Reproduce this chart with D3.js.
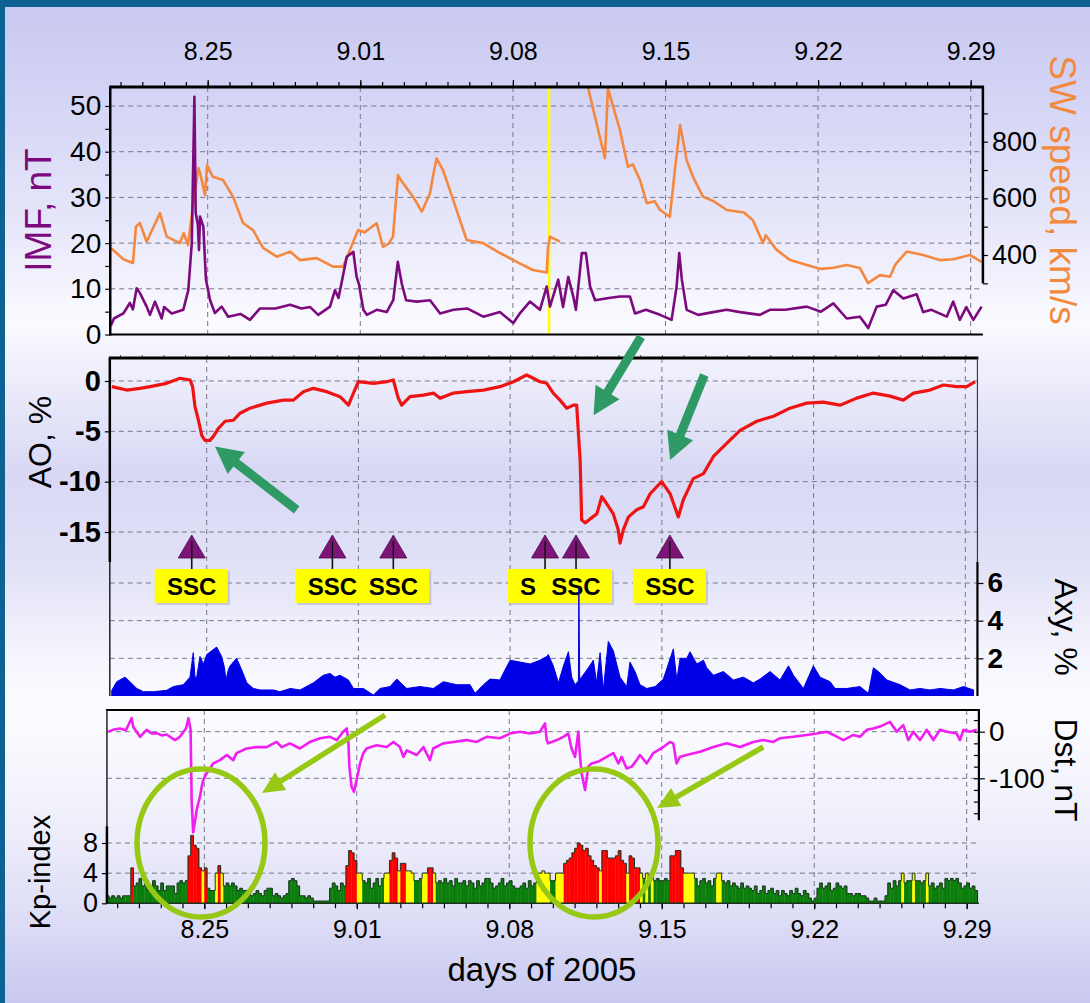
<!DOCTYPE html>
<html>
<head>
<meta charset="utf-8">
<script src="https://cdn.jsdelivr.net/npm/d3@7"></script>
<style>
  html, body { margin: 0; padding: 0; background: #fff; }
  svg { display: block; font-family: "Liberation Sans", Arial, sans-serif; }
</style>
</head>
<body>
<svg id="chart" width="1090" height="1003"></svg>
<script>
// ---------- data (day of year 2005, value) ----------
const dateTicks  = [237, 244, 251, 258, 265, 272];
const dateLabels = ["8.25", "9.01", "9.08", "9.15", "9.22", "9.29"];
const dayRange   = [232.53, 272.56];

// interplanetary magnetic field, nT
const imfData = [[232.56,2],[232.7,3.5],[233.13,4.6],[233.43,6.9],[233.57,5.5],[233.74,10.1],[233.9,9],[234.2,6.1],[234.35,4.3],[234.58,7.2],[234.89,3.5],[235.0,6],[235.35,4.6],[235.88,5.4],[236.11,9.7],[236.27,20],[236.39,52],[236.45,26.6],[236.55,24],[236.6,18.5],[236.65,25.8],[236.8,23.6],[236.92,12],[237.11,7.5],[237.33,4.7],[237.64,6.1],[237.94,3.9],[238.5,4.5],[238.94,3.2],[239.4,5.7],[240.1,5.7],[240.78,6.5],[241.3,5.7],[241.7,6],[242.07,4.3],[242.61,6.1],[242.84,9.7],[243.0,8],[243.38,17],[243.68,18.1],[243.83,12.6],[243.94,11],[244.14,5.4],[244.3,4.3],[244.75,5.4],[245.21,4.9],[245.51,7.5],[245.72,15.9],[245.9,11.2],[246.1,7.5],[246.59,7.2],[247.2,7.5],[247.66,4.6],[248.27,5.4],[248.9,5.7],[249.64,3.9],[250.4,4.9],[251.02,2.5],[251.3,4.5],[251.78,7.2],[252.24,5.4],[252.55,10.5],[252.7,6.1],[253.08,12],[253.3,6],[253.54,12.6],[253.77,8.3],[253.89,5.4],[254.16,17.8],[254.35,17.8],[254.54,10.5],[254.77,7.5],[255.4,8],[255.91,8.3],[256.37,8.3],[256.6,4.6],[257.1,5.4],[257.75,4.3],[258.28,3.2],[258.51,10.5],[258.63,17.8],[258.75,12],[258.97,5.4],[259.5,4.3],[260.19,4.9],[260.8,5.4],[261.42,4.9],[262.33,4.3],[262.79,5.4],[263.5,5.4],[264.48,6.1],[265.13,5],[265.7,6.8],[266.31,3.5],[266.92,3.9],[267.3,1.4],[267.69,6.1],[268.1,6.5],[268.45,9.7],[268.91,7.9],[269.52,8.8],[269.82,4.9],[270.2,5.4],[270.9,3.9],[271.2,7.2],[271.5,3.2],[271.8,6],[272.12,3.2],[272.5,6.1]];

// solar wind speed, km/s (null = no data)
const swData = [[232.56,425],[233.13,385],[233.57,372],[233.71,500],[233.89,513],[234.2,447],[234.81,548],[235.12,465],[235.73,442],[235.9,477],[236.1,435],[236.27,541],[236.57,707],[236.65,690],[236.88,612],[236.97,717],[237.24,676],[237.7,665],[238.16,606],[238.62,513],[239.08,488],[239.54,425],[240.17,394],[240.78,412],[241.23,382],[242.0,389],[242.75,359],[243.21,359],[243.9,488],[244.2,480],[244.75,512],[245.04,429],[245.3,440],[245.5,465],[245.73,682],[245.9,660],[246.42,606],[246.82,553],[247.2,618],[247.33,676],[247.5,741],[247.79,700],[248.11,629],[248.57,523],[248.88,453],[249.63,442],[250.41,407],[251.17,376],[251.92,347],[252.55,338],[252.61,425],[252.7,465],[253.16,447],[253.4,null],[254.45,990],[255.22,742],[255.36,989],[255.5,950],[255.91,841],[256.28,711],[256.5,720],[256.83,665],[257.14,583],[257.5,590],[257.75,559],[258.2,535],[258.43,700],[258.67,859],[258.97,735],[259.26,676],[259.72,606],[260.2,590],[260.81,559],[261.6,550],[262.01,523],[262.47,442],[262.6,470],[263.1,418],[263.72,382],[264.48,365],[265.13,351],[265.7,355],[266.31,365],[266.92,354],[267.29,301],[267.84,329],[268.3,323],[268.53,365],[269.06,412],[269.82,400],[270.58,382],[271.2,385],[271.97,400],[272.5,376]];
const swTickValues  = [300, 400, 500, 600, 700, 800, 900];
const swLabelValues = [400, 600, 800];
const shockDays = [252.66];

// cosmic ray density variation AO, %
const aoData = [[232.62,-0.56],[233.31,-0.9],[233.92,-0.73],[234.39,-0.56],[235.15,-0.23],[235.77,0.27],[236.23,0.1],[236.35,-0.56],[236.46,-2.55],[236.62,-3.9],[236.77,-5.4],[236.92,-5.9],[237.15,-5.9],[237.31,-5.5],[237.54,-4.7],[237.85,-4.0],[238.23,-3.9],[238.54,-3.2],[239.0,-2.7],[239.77,-2.2],[240.54,-1.9],[241.0,-1.9],[241.46,-1.06],[241.92,-0.73],[242.54,-1.06],[243.15,-1.56],[243.54,-2.4],[243.77,-1.2],[244.0,-0.07],[244.69,-0.23],[245.31,-0.07],[245.61,0.1],[245.84,-1.72],[246.0,-2.4],[246.38,-1.56],[247.0,-1.4],[247.46,-1.2],[247.77,-1.72],[248.38,-1.2],[249.0,-1.06],[249.77,-0.9],[250.53,-0.56],[251.15,-0.07],[251.76,0.6],[252.07,0.27],[252.38,-0.07],[252.69,-0.23],[252.99,-1.2],[253.3,-1.9],[253.61,-2.7],[253.92,-2.4],[254.07,-2.4],[254.15,-5.2],[254.23,-7.9],[254.3,-13.8],[254.46,-14.1],[254.69,-13.7],[255.0,-13.2],[255.23,-11.5],[255.46,-12.2],[255.76,-13.2],[255.99,-14.8],[256.07,-16.1],[256.22,-14.8],[256.46,-13.5],[256.84,-12.8],[257.15,-12.5],[257.46,-11.2],[257.99,-10.0],[258.38,-11.2],[258.76,-13.5],[258.99,-11.8],[259.45,-9.7],[259.92,-9.2],[260.38,-7.5],[260.99,-6.2],[261.61,-4.9],[262.38,-4.0],[263.15,-3.5],[263.91,-2.7],[264.68,-2.2],[265.45,-2.1],[266.22,-2.4],[266.99,-1.7],[267.76,-1.2],[268.53,-1.5],[269.14,-1.9],[269.61,-1.2],[270.37,-0.9],[270.99,-0.4],[271.6,-0.56],[272.07,-0.56],[272.45,-0.07]];
const aoTicks = [0, -5, -10, -15];

// equatorial anisotropy component Axy, %
const axyData = [[232.62,0.3],[232.85,0.76],[233.23,1.0],[233.46,0.76],[233.77,0.4],[234.08,0.23],[234.54,0.23],[235.15,0.3],[235.46,0.5],[235.92,0.6],[236.23,1.0],[236.38,2.3],[236.46,1.0],[236.54,1.0],[236.69,2.1],[236.85,1.7],[237.0,2.2],[237.23,2.4],[237.46,2.6],[237.69,2.1],[237.82,1.5],[237.89,0.85],[238.0,1.4],[238.08,1.6],[238.38,2.0],[238.61,1.4],[238.85,0.7],[239.15,0.4],[239.46,0.32],[240.08,0.32],[240.38,0.23],[240.85,0.4],[241.31,0.32],[241.92,0.7],[242.38,1.1],[242.69,1.2],[242.92,1.0],[243.15,1.1],[243.54,0.85],[243.77,0.4],[244.23,0.4],[244.69,0.05],[245.0,0.4],[245.46,0.5],[245.77,0.9],[246.23,0.4],[246.84,0.5],[247.46,0.4],[247.92,0.76],[248.53,0.6],[249.15,0.6],[249.38,0.14],[249.77,0.6],[250.07,0.9],[250.53,0.85],[250.77,1.4],[251.0,1.9],[251.46,1.8],[251.92,1.7],[252.38,1.9],[252.69,2.1],[252.76,2.2],[252.99,1.6],[253.23,0.7],[253.46,1.6],[253.69,2.35],[253.84,1.0],[253.99,0.6],[254.15,0.8],[254.17,5.7],[254.21,0.9],[254.3,1.0],[254.61,1.5],[254.84,1.9],[254.99,0.7],[255.15,2.3],[255.3,0.32],[255.53,2.9],[255.76,2.4],[256.07,1.0],[256.38,0.5],[256.53,1.8],[256.76,1.3],[256.99,0.6],[257.3,0.4],[257.69,0.5],[258.07,0.9],[258.3,1.7],[258.53,2.5],[258.69,0.85],[258.84,2.0],[259.15,2.0],[259.3,2.35],[259.61,1.7],[259.92,1.9],[260.07,1.5],[260.38,1.1],[260.84,1.3],[261.3,0.85],[261.76,1.0],[262.22,0.7],[262.53,0.9],[262.99,1.3],[263.45,0.85],[263.84,1.6],[264.07,1.1],[264.53,0.4],[264.99,1.6],[265.3,1.0],[265.76,0.76],[265.99,0.4],[266.53,0.4],[267.14,0.5],[267.53,0.14],[267.76,1.5],[267.99,1.3],[268.38,0.85],[268.99,0.6],[269.45,0.32],[269.91,0.4],[270.37,0.32],[270.84,0.4],[271.45,0.32],[271.91,0.5],[272.38,0.32]];
const axyTicks = [2, 4, 6];

// storm sudden commencements
const sscDays   = [236.31, 242.80, 245.61, 252.61, 254.04, 258.37];
const sscText   = ["SSC", "SSC", "SSC", "S", "SSC", "SSC"];
const sscGroups = [[0], [1, 2], [3, 4], [5]];

// Dst index, nT
const dstData = [[232.59,0],[232.8,4],[233.13,7],[233.4,3],[233.66,29],[233.74,10],[234.05,-11],[234.35,4],[234.6,-4],[234.81,-3],[235.05,-8],[235.27,-6],[235.65,-18],[235.88,-11],[236.16,7],[236.27,29],[236.37,5],[236.42,-150],[236.49,-216],[236.58,-190],[236.65,-168],[236.72,-154],[236.8,-140],[236.88,-118],[236.95,-104],[237.11,-89],[237.25,-80],[237.41,-68],[237.72,-61],[238.03,-50],[238.33,-61],[238.48,-46],[238.94,-36],[239.4,-33],[239.86,-33],[240.32,-22],[240.55,-33],[240.93,-25],[241.39,-36],[241.85,-22],[242.31,-14],[242.77,-11],[243.08,-18],[243.38,0],[243.54,7],[243.61,-18],[243.66,-75],[243.76,-118],[243.87,-129],[243.99,-104],[244.15,-68],[244.3,-46],[244.45,-36],[244.91,-29],[245.37,-33],[245.68,-22],[245.98,-33],[246.14,-54],[246.29,-40],[246.75,-50],[247.06,-33],[247.36,-61],[247.51,-36],[247.97,-25],[248.43,-22],[249.04,-18],[249.5,-22],[249.96,-11],[250.57,-14],[251.03,-4],[251.49,0],[251.95,-4],[252.41,0],[252.64,18],[252.72,-18],[252.79,-25],[253.18,-18],[253.48,-11],[253.71,-4],[253.86,-36],[254.02,-54],[254.17,0],[254.25,-54],[254.32,-89],[254.48,-125],[254.63,-75],[254.78,-68],[255.09,-64],[255.47,-54],[255.78,-46],[256.01,-68],[256.16,-54],[256.39,-79],[256.62,-75],[256.85,-61],[257.0,-50],[257.31,-68],[257.61,-46],[258.07,-33],[258.38,-22],[258.53,-25],[258.68,-68],[258.84,-54],[259.14,-50],[259.76,-43],[260.37,-33],[260.98,-25],[261.59,-33],[262.2,-22],[262.66,-18],[263.12,-22],[263.43,-14],[264.04,-11],[264.65,-7],[265.11,-4],[265.57,0],[265.88,-7],[266.34,-18],[266.8,-7],[267.1,-11],[267.41,4],[267.71,7],[268.02,11],[268.48,21],[268.79,0],[269.09,14],[269.32,-18],[269.55,0],[269.86,-18],[270.16,4],[270.47,-18],[270.78,4],[271.08,0],[271.54,-4],[271.69,-18],[271.85,4],[272.15,0],[272.46,4]];
const dstTicks = [0, -100];

// 3-hour Kp index, one row per day, first row starts at 232.5
const kpStart = 232.5;
const kpStep  = 0.125;
const kpRows = [
  [1,0.7,1,0.7],
  [1,0.7,1,1,1,4.7,2.3,2.7],
  [3.3,2.3,2.7,1.7,2.3,3,2.3,1.7],
  [2.7,1.7,2.3,2.3,2.3,1.3,2.7,3],
  [2.7,3,6.3,9,7.7,7.3,4.7,4.3],
  [4.7,2,1.7,1.7,4,5,4,2.3],
  [2.7,2.3,2.7,2.3,1.7,2,1.7,1.7],
  [1.3,1,1.3,1.7,1.3,1,1.7,2],
  [2,1,1.3,1,0.7,1,1.3,3],
  [3.3,3,2.3,1,1,0.7,1,0.7],
  [0.3,0.3,0.3,0.3,0.3,0.3,2,2.7],
  [2.3,1.7,2.7,2.3,5,7,6.7,5.7],
  [4,4,3,2.7,3.3,2,2.7,3.3],
  [2.3,3.3,4,4,5.7,6.7,6,4.3],
  [5.3,5.3,4.3,4.3,4,3,3,3.3],
  [4,4,4.7,4.7,4,2.7,3,2.7],
  [3.3,2.7,3,2.3,3.3,2.7,2.7,3],
  [2.3,3,2.7,2,3,2.3,2.7,3.3],
  [3.3,2.7,2,2.3,2.7,3.3,2.3,2.7],
  [3,2.3,2,2,2.3,2.7,2,3],
  [2.3,2.7,4,4,4.3,4,4,3],
  [3,4,4,4,5.3,5.7,6,6.7],
  [7.3,8,7.7,7,7.3,6.3,5.7,5],
  [4.7,4.3,7,7,6,6,6,6.3],
  [7,5.7,5.3,4,6.3,6,4.7,4.7],
  [4,3.3,4,3.3,3.7,3,3.3,3],
  [3,3.3,3,6.3,6.3,7,7,4.7],
  [4,4,4,4,3.3,2.3,3,3.3],
  [2.7,3,2.3,3.3,4,4,3,2.7],
  [3,2.3,2.7,2.3,2,2.7,2,2.3],
  [2,1.7,2.3,1.3,1.7,2.3,1.3,1.7],
  [2,1.3,1.7,1,1.7,1.3,1,1.7],
  [1.3,2,1.3,1,1.7,1.3,0.7,0.3],
  [0.7,2,2.7,2,2.3,2.7,1.7,2],
  [2.7,2.3,2,2.3,1.3,1.3,1,1.3],
  [1.3,1,1,0.7,0.3,0.3,0.7,0.3],
  [0.3,0.3,1,2.7,2,3,2.3,3],
  [4,2.7,3,3,4,3,3,2.7],
  [3,4,2.3,2.7,2,2.3,2.7,2],
  [3.3,3,3.3,3,3.3,2.7,2,2.3],
  [2.7,2,2.3,1.7]
];
const kpTicks = [0, 4, 8];

// annotations (day, value in the panel's own units)
const aoArrows  = [{from: [241.15, -12.8], to: [237.38, -6.5]},
                   {from: [257.04, 4.4],   to: [254.85, -3.4]},
                   {from: [259.96, 0.6],   to: [258.38, -7.85]}];
const kpCircles = [[236.85, 8.0], [254.89, 8.0]];
const dstArrows = [{from: [245.3, 35.8],   to: [239.65, -131.5]},
                   {from: [262.66, -32.8], to: [257.79, -163.7]}];

// ---------- layout ----------
const W = 1090, H = 1003;
const svg = d3.select("#chart");
const defs = svg.append("defs");

const makeX = (a, b) => d3.scaleLinear().domain([237, 272]).range([a, b]);
const xTop = makeX(207.7, 970.7);
const xMid = makeX(206.7, 965.3);
const xBot = makeX(204.3, 966.7);

const yImf = d3.scaleLinear().domain([0, 50]).range([334.5, 106]);
const ySw  = d3.scaleLinear().domain([400, 800]).range([255, 141.7]);
const yAo  = d3.scaleLinear().domain([-20, 0]).range([582.3, 381]);
const yAxy = d3.scaleLinear().domain([0, 6]).range([696, 583]);
const yDst = d3.scaleLinear().domain([-100, 0]).range([778.3, 731.7]);
const yKp  = d3.scaleLinear().domain([0, 8]).range([903.3, 843]);

const P1 = {x0: xTop(dayRange[0]), x1: xTop(dayRange[1]), y0: 87,  y1: yImf(0)};
const P2 = {x0: xMid(dayRange[0]), x1: xMid(dayRange[1]), y0: 358, y1: yAxy(0)};
const P3 = {x0: xBot(dayRange[0]), x1: xBot(dayRange[1]), y0: 710, y1: yKp(0)};

// background
const bg = defs.append("linearGradient").attr("id", "bg")
  .attr("x1", 0).attr("y1", 0).attr("x2", 0).attr("y2", 1);
[[0, "#c8c8f1"], [0.09, "#d3d3f5"], [0.22, "#e6e6fa"], [0.32, "#fafaff"], [0.38, "#ececfb"],
 [0.47, "#d8d8f5"], [0.56, "#e0e0f7"], [0.65, "#f4f4fd"], [0.71, "#fcfcff"], [0.82, "#efeffb"],
 [0.92, "#dcdcf6"], [1, "#c8c8f0"]]
  .forEach(([o, c]) => bg.append("stop").attr("offset", o).attr("stop-color", c));
svg.append("rect").attr("width", W).attr("height", H).attr("fill", "url(#bg)");
svg.append("rect").attr("width", W).attr("height", 7).attr("fill", "#0d6294");
svg.append("rect").attr("width", 5).attr("height", H).attr("fill", "#0d6294");

function clip(id, p) {
  defs.append("clipPath").attr("id", id).append("rect")
    .attr("x", p.x0).attr("y", p.y0).attr("width", p.x1 - p.x0).attr("height", p.y1 - p.y0);
}
clip("c1", P1); clip("c2", P2); clip("c3", P3);

const gridStyle = sel => sel.attr("stroke", "#77778a").attr("stroke-width", 1)
  .attr("stroke-dasharray", "5,4").attr("fill", "none");

function hLine(g, x0, x1, y, w, color = "#000") {
  g.append("line").attr("x1", x0).attr("x2", x1).attr("y1", y).attr("y2", y)
    .attr("stroke", color).attr("stroke-width", w);
}
function vLine(g, x, y0, y1, w, color = "#000") {
  g.append("line").attr("x1", x).attr("x2", x).attr("y1", y0).attr("y2", y1)
    .attr("stroke", color).attr("stroke-width", w);
}
function styleAxis(g, size, weight = "normal") {
  g.select(".domain").remove();
  g.selectAll(".tick line").attr("stroke", "#000").attr("stroke-width", 1.2);
  g.attr("font-family", null).attr("font-size", size).attr("font-weight", weight);
  g.selectAll("text").attr("fill", "#000");
}
const dailyTicks = d3.range(233, 273);

// ---------- panel 1 : IMF and solar wind speed ----------
const g1 = svg.append("g");
const gg1 = g1.append("g");
dateTicks.forEach(d => gridStyle(gg1.append("line").attr("x1", xTop(d)).attr("x2", xTop(d))
  .attr("y1", P1.y0).attr("y2", P1.y1)));
[10, 20, 30, 40, 50].forEach(v => gridStyle(gg1.append("line").attr("x1", P1.x0).attr("x2", P1.x1)
  .attr("y1", yImf(v)).attr("y2", yImf(v))));

const d1 = g1.append("g").attr("clip-path", "url(#c1)");
shockDays.forEach(d => vLine(d1, xTop(d), P1.y0, P1.y1, 2.5, "#ffff00"));
d1.append("path").datum(swData)
  .attr("d", d3.line().defined(d => d[1] != null).x(d => xTop(d[0])).y(d => ySw(d[1])))
  .attr("fill", "none").attr("stroke", "#f5883f").attr("stroke-width", 2.6).attr("stroke-linejoin", "round");
d1.append("path").datum(imfData)
  .attr("d", d3.line().x(d => xTop(d[0])).y(d => yImf(d[1])))
  .attr("fill", "none").attr("stroke", "#7d0a7d").attr("stroke-width", 2.6).attr("stroke-linejoin", "round");

// top date axis
const a1 = g1.append("g").attr("transform", `translate(0,${P1.y0})`)
  .call(d3.axisTop(xTop).tickValues(dailyTicks).tickSize(5).tickFormat(""));
styleAxis(a1, 10);
const a1b = g1.append("g").attr("transform", `translate(0,${P1.y0})`)
  .call(d3.axisTop(xTop).tickValues(dateTicks).tickSize(7).tickPadding(20)
    .tickFormat((d, i) => dateLabels[i]));
styleAxis(a1b, 25);

const aImf = g1.append("g").attr("transform", `translate(${P1.x0},0)`)
  .call(d3.axisLeft(yImf).tickValues(d3.range(0, 51, 5)).tickSize(5).tickPadding(4)
    .tickFormat(d => d % 10 === 0 ? d : ""));
styleAxis(aImf, 28);
const aSw = g1.append("g").attr("transform", `translate(${P1.x1},0)`)
  .call(d3.axisRight(ySw).tickValues(swTickValues).tickSize(5).tickPadding(4)
    .tickFormat(d => swLabelValues.includes(d) ? d : ""));
styleAxis(aSw, 27);

hLine(g1, P1.x0 - 1, P1.x1 + 1, P1.y0, 3);
hLine(g1, P1.x0 - 1, P1.x1, P1.y1, 2);
vLine(g1, P1.x0, P1.y0, P1.y1 + 1, 2.5);
vLine(g1, P1.x1, P1.y0, ySw(300), 2.5);

// ---------- panel 2 : AO and Axy ----------
const g2 = svg.append("g");
const gg2 = g2.append("g");
dateTicks.forEach(d => gridStyle(gg2.append("line").attr("x1", xMid(d)).attr("x2", xMid(d))
  .attr("y1", P2.y0).attr("y2", P2.y1)));
[0, -5, -10, -15].forEach(v => gridStyle(gg2.append("line").attr("x1", P2.x0).attr("x2", P2.x1)
  .attr("y1", yAo(v)).attr("y2", yAo(v))));
axyTicks.forEach(v => gridStyle(gg2.append("line").attr("x1", P2.x0).attr("x2", P2.x1)
  .attr("y1", yAxy(v)).attr("y2", yAxy(v))));

const a2 = g2.append("g").attr("transform", `translate(0,${P2.y0})`)
  .call(d3.axisTop(xMid).tickValues(dailyTicks).tickSize(3).tickFormat(""));
styleAxis(a2, 10);
a2.selectAll(".tick line").attr("stroke", "#555").attr("stroke-width", 1);

// SSC markers
const sscY = {tip: 535, base: 558, boxTop: 569, boxBottom: 603};
const gs = g2.append("g");
sscGroups.forEach(idx => {
  const xa = xMid(sscDays[idx[0]]) - 37, xb = xMid(sscDays[idx[idx.length - 1]]) + 36;
  gs.append("rect").attr("x", xa + 2).attr("y", sscY.boxTop + 2).attr("width", xb - xa)
    .attr("height", sscY.boxBottom - sscY.boxTop).attr("fill", "#b0b0c8").attr("opacity", 0.6);
  gs.append("rect").attr("x", xa).attr("y", sscY.boxTop).attr("width", xb - xa)
    .attr("height", sscY.boxBottom - sscY.boxTop).attr("fill", "#ffff00");
});
sscDays.forEach((d, i) => {
  const x = xMid(d);
  vLine(gs, x, sscY.tip + 2, sscY.boxTop, 1.6, "#111");
  gs.append("path")
    .attr("d", `M${x},${sscY.tip}L${x + 13.5},${sscY.base}L${x - 13.5},${sscY.base}Z`)
    .attr("fill", "#7c1676").attr("stroke", "#4a0a48").attr("stroke-width", 0.8);
  vLine(gs, x, sscY.tip + 6, sscY.base, 1.4, "#111");
  gs.append("text").attr("x", sscText[i] === "S" ? x - 17 : x).attr("y", 595)
    .attr("text-anchor", "middle").attr("font-size", 24).attr("font-weight", "bold")
    .attr("fill", "#000").text(sscText[i]);
});

const d2 = g2.append("g");
d2.append("path").datum(axyData).attr("clip-path", "url(#c2)")
  .attr("d", d3.area().x(d => xMid(d[0])).y0(yAxy(0)).y1(d => yAxy(d[1])))
  .attr("fill", "#0000e6").attr("stroke", "#0000e6").attr("stroke-width", 1);
d2.append("path").datum(aoData).attr("clip-path", "url(#c2)")
  .attr("d", d3.line().x(d => xMid(d[0])).y(d => yAo(d[1])))
  .attr("fill", "none").attr("stroke", "#ee1414").attr("stroke-width", 3.2).attr("stroke-linejoin", "round");

const aAo = g2.append("g").attr("transform", `translate(${P2.x0},0)`)
  .call(d3.axisLeft(yAo).tickValues(aoTicks).tickSize(5).tickPadding(4).tickFormat(d => String(d)));
styleAxis(aAo, 29, "bold");
const aAxy = g2.append("g").attr("transform", `translate(${P2.x1},0)`)
  .call(d3.axisRight(yAxy).tickValues(axyTicks).tickSize(6).tickPadding(4).tickFormat(d => String(d)));
styleAxis(aAxy, 28, "bold");

hLine(g2, P2.x0 - 1, P2.x1 + 1, P2.y0, 3);
vLine(g2, P2.x0, P2.y0, 562, 2.5);
vLine(g2, P2.x0, 562, P2.y1, 1.5, "#222");
vLine(g2, P2.x1, P2.y0, 562, 1.2, "#3a3a55");
vLine(g2, P2.x1, 562, P2.y1, 2.2);

// ---------- panel 3 : Dst and Kp ----------
const g3 = svg.append("g");
const gg3 = g3.append("g");
dateTicks.forEach(d => gridStyle(gg3.append("line").attr("x1", xBot(d)).attr("x2", xBot(d))
  .attr("y1", P3.y0).attr("y2", P3.y1)));
dstTicks.forEach(v => gridStyle(gg3.append("line").attr("x1", P3.x0).attr("x2", P3.x1)
  .attr("y1", yDst(v)).attr("y2", yDst(v))));
[4, 8].forEach(v => gridStyle(gg3.append("line").attr("x1", P3.x0).attr("x2", P3.x1)
  .attr("y1", yKp(v)).attr("y2", yKp(v))));

const kp = kpRows.flat().map((v, i) => ({t: kpStart + i * kpStep, v}));
const kpColor = v => v >= 4.5 ? "#ff0000" : v >= 3.5 ? "#ffff00" : "#0a7d0a";
const d3g = g3.append("g").attr("clip-path", "url(#c3)");
d3g.selectAll("rect.kp").data(kp).join("rect").attr("class", "kp")
  .attr("x", d => xBot(d.t)).attr("width", d => xBot(d.t + kpStep) - xBot(d.t) + 0.3)
  .attr("y", d => yKp(d.v)).attr("height", d => yKp(0) - yKp(d.v))
  .attr("fill", d => kpColor(d.v));
const kpOutline = kp.map(d => [d.t, d.v]).concat([[kp[kp.length - 1].t + kpStep, 0]]);
d3g.append("path").datum(kpOutline)
  .attr("d", d3.line().curve(d3.curveStepAfter).x(d => xBot(d[0])).y(d => yKp(d[1])))
  .attr("fill", "none").attr("stroke", "#1d3320").attr("stroke-width", 1);
d3g.append("path").datum(dstData)
  .attr("d", d3.line().x(d => xBot(d[0])).y(d => yDst(d[1])))
  .attr("fill", "none").attr("stroke", "#f01ef0").attr("stroke-width", 2.6).attr("stroke-linejoin", "round");

const a3 = g3.append("g").attr("transform", `translate(0,${P3.y1})`)
  .call(d3.axisBottom(xBot).tickValues(dailyTicks).tickSize(5).tickFormat(""));
styleAxis(a3, 10);
const a3b = g3.append("g").attr("transform", `translate(0,${P3.y1})`)
  .call(d3.axisBottom(xBot).tickValues(dateTicks).tickSize(6).tickPadding(11)
    .tickFormat((d, i) => dateLabels[i]));
styleAxis(a3b, 25);

const aKp = g3.append("g").attr("transform", `translate(${P3.x0},0)`)
  .call(d3.axisLeft(yKp).tickValues(kpTicks).tickSize(5).tickPadding(4));
styleAxis(aKp, 27);
const aDst = g3.append("g").attr("transform", `translate(${P3.x1},0)`)
  .call(d3.axisRight(yDst).tickValues(dstTicks).tickSize(6).tickPadding(4).tickFormat(d => String(d)));
styleAxis(aDst, 28);
const aDstMinor = g3.append("g").attr("transform", `translate(${P3.x1},0)`)
  .call(d3.axisLeft(yDst).tickValues(d3.range(25, -176, -25)).tickSize(5).tickFormat(""));
styleAxis(aDstMinor, 10);

hLine(g3, P3.x0 - 1, P3.x1 + 1, P3.y0, 2);
hLine(g3, P3.x0, P3.x1, P3.y1, 1.5, "#1d3320");
vLine(g3, P3.x0, P3.y0, P3.y1, 1.5, "#222");
vLine(g3, P3.x0, yKp(10.2), P3.y1, 2.5);
vLine(g3, P3.x1, P3.y0, yDst(-190), 2.2);

// ---------- annotations ----------
function arrowPath(x1, y1, x2, y2, sw, hw, hl) {
  const L = Math.hypot(x2 - x1, y2 - y1), ux = (x2 - x1) / L, uy = (y2 - y1) / L;
  const px = -uy, py = ux, bx = x2 - ux * hl, by = y2 - uy * hl;
  const pts = [[x1 + px * sw / 2, y1 + py * sw / 2], [bx + px * sw / 2, by + py * sw / 2],
    [bx + px * hw / 2, by + py * hw / 2], [x2, y2], [bx - px * hw / 2, by - py * hw / 2],
    [bx - px * sw / 2, by - py * sw / 2], [x1 - px * sw / 2, y1 - py * sw / 2]];
  return "M" + pts.map(p => p.join(",")).join("L") + "Z";
}
const ga = svg.append("g");
aoArrows.forEach(a => ga.append("path")
  .attr("d", arrowPath(xMid(a.from[0]), yAo(a.from[1]), xMid(a.to[0]), yAo(a.to[1]), 9, 28, 27))
  .attr("fill", "#2f9a66"));
kpCircles.forEach(c => ga.append("ellipse")
  .attr("cx", xBot(c[0])).attr("cy", yKp(c[1])).attr("rx", 64).attr("ry", 74)
  .attr("fill", "none").attr("stroke", "#97c814").attr("stroke-width", 5.5));
dstArrows.forEach(a => ga.append("path")
  .attr("d", arrowPath(xBot(a.from[0]), yDst(a.from[1]), xBot(a.to[0]), yDst(a.to[1]), 5.5, 21, 22))
  .attr("fill", "#97c814"));

// ---------- titles ----------
function vLabel(x, y, text, rot, color, size) {
  svg.append("text").attr("transform", `translate(${x},${y}) rotate(${rot})`)
    .attr("text-anchor", "middle").attr("dominant-baseline", "central")
    .attr("fill", color).attr("font-size", size).text(text);
}
vLabel(38, 210, "IMF, nT", -90, "#7d0a7d", 37);
vLabel(40, 442, "AO, %", -90, "#000", 32);
vLabel(40, 872, "Kp-index", -90, "#000", 29);
vLabel(1062, 190, "SW speed, km/s", 90, "#f28a3e", 37);
vLabel(1066, 627, "Axy, %", 90, "#000", 32);
vLabel(1066, 770, "Dst, nT", 90, "#000", 32);
svg.append("text").attr("x", 542).attr("y", 981).attr("text-anchor", "middle")
  .attr("font-size", 33).attr("fill", "#000").text("days of 2005");
</script>
</body>
</html>
